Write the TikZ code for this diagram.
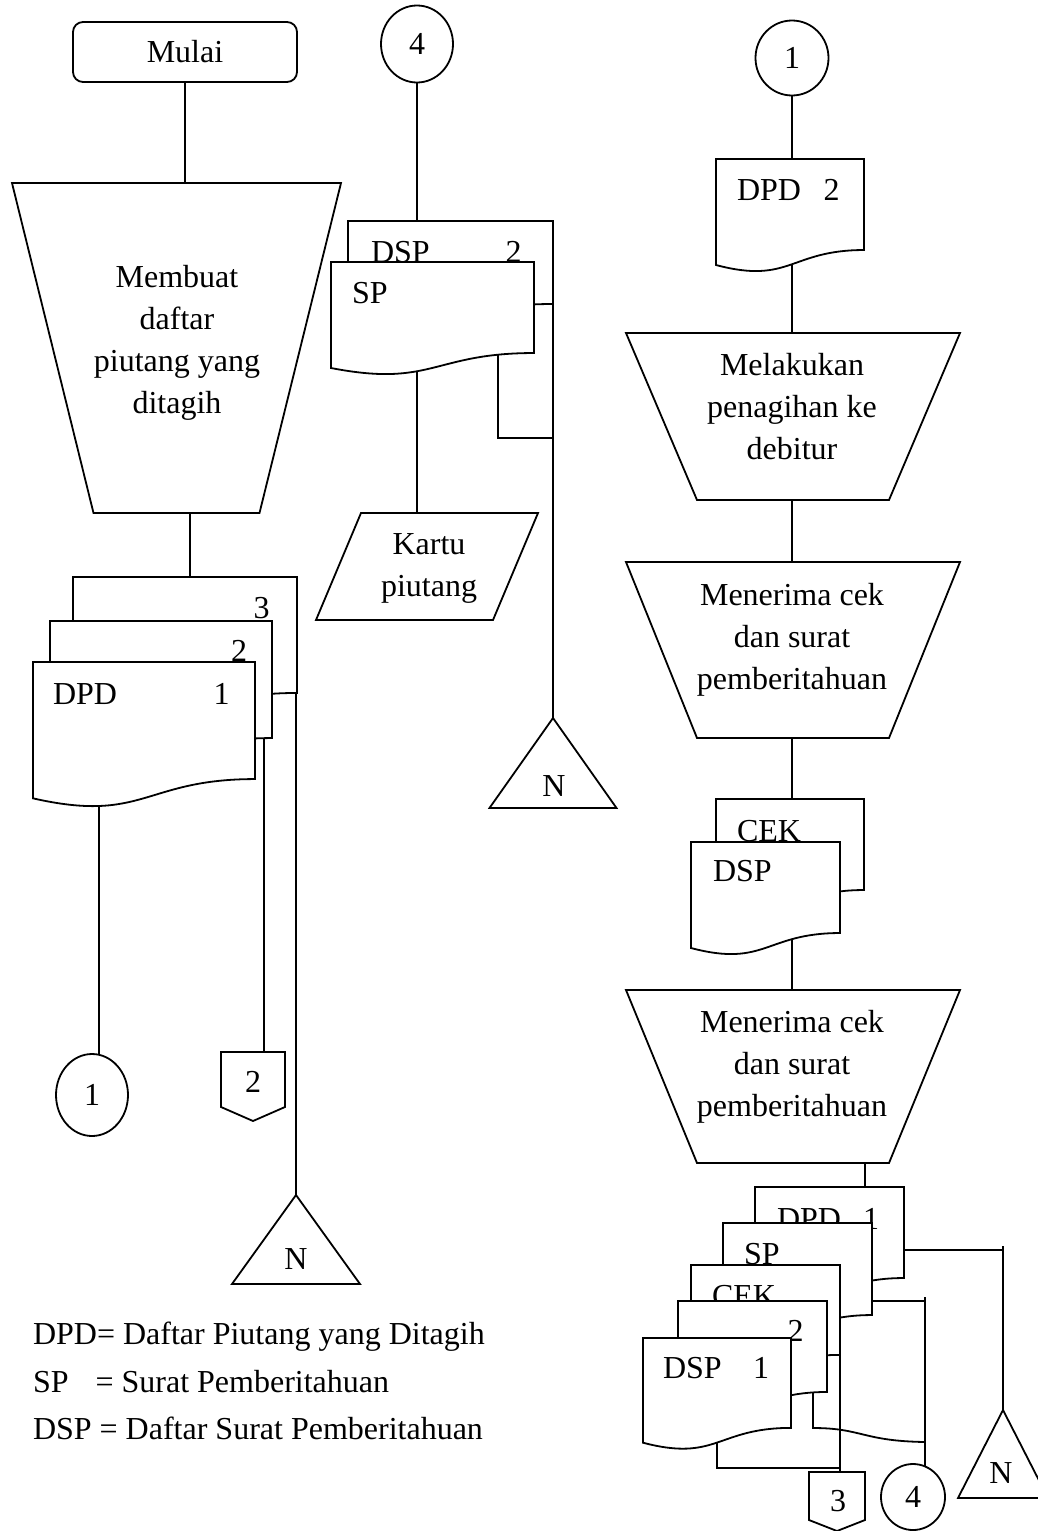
\documentclass[tikz,border=0pt]{standalone}
\usepackage{fontspec}
\setmainfont{Liberation Serif}
\usetikzlibrary{calc,shapes.geometric}
\pgfdeclarelayer{wires}
\pgfsetlayers{wires,main}

\tikzset{
  box/.style={rectangle, inner sep=0pt, outer sep=0pt, draw=none},
  lbl/.style={inner sep=0pt, outer sep=0pt, font=\fontsize{32}{42}\selectfont},
  mtext/.style={lbl, align=center, execute at begin node=\strut, execute at end node=\strut},
  term/.style={rectangle, rounded corners=10pt, draw, fill=white, inner sep=0pt, font=\fontsize{32}{42}\selectfont},
  conn/.style={ellipse, draw, fill=white, inner sep=0pt, font=\fontsize{32}{42}\selectfont},
  shp/.style={draw, fill=white},
  flow/.style={line width=1.8pt, black},
}

% flowchart symbols drawn on an invisible bounding node
\newcommand\docshape[1]{\path[shp] (#1.north west) -- (#1.north east)
  -- ($(#1.north east)!0.802!(#1.south east)$)
  .. controls ($(#1.north)!0.802!(#1.south)$) and ($(#1.north)!1.1075!(#1.south)$)
  .. ($(#1.north west)!0.934!(#1.south west)$) -- cycle;}
\newcommand\manop[2]{\path[shp] (#1.north west) -- (#1.north east)
  -- ([xshift=-#2]#1.south east) -- ([xshift=#2]#1.south west) -- cycle;}
\newcommand\ioshape[2]{\path[shp] ([xshift=#2]#1.north west) -- (#1.north east)
  -- ([xshift=-#2]#1.south east) -- (#1.south west) -- cycle;}
\newcommand\offpage[2]{\path[shp] (#1.north west) -- (#1.north east) -- (#1.south east)
  -- ([yshift=-#2]#1.south) -- (#1.south west) -- cycle;}
\newcommand\mergetri[1]{\path[shp] (#1.north) -- (#1.south east) -- (#1.south west) -- cycle;}

\begin{document}
\begin{tikzpicture}[x=1pt, y=-1pt, line width=1.8pt]
\useasboundingbox (0,0) rectangle (1038,1531);

% ---------- left column ----------
\node[term, minimum width=224pt, minimum height=60pt] (mulai) at (185,52) {Mulai};

\node[box, minimum width=329pt, minimum height=330pt] (buat) at (176.5,348) {};
\manop{buat}{81.5pt}
\node[mtext] (buat-t) at (177,346) {Membuat\\daftar\\piutang yang\\ditagih};

\node[box, minimum width=224pt, minimum height=144.6pt] (dpdc) at (185,649.3) {};
\docshape{dpdc}
\node[lbl, anchor=base] (dpdc-n) at (261.5,618) {3};
\node[box, minimum width=222pt, minimum height=145.9pt] (dpdb) at (161,694) {};
\docshape{dpdb}
\node[lbl, anchor=base] (dpdb-n) at (239,661) {2};
\node[box, minimum width=222pt, minimum height=145.9pt] (dpda) at (144,735) {};
\docshape{dpda}
\node[lbl, anchor=base west] (dpda-t) at (53,704) {DPD};
\node[lbl, anchor=base] (dpda-n) at (221.5,704) {1};

\node[conn, minimum width=72pt, minimum height=82pt] (outa) at (92,1095) {1};
\node[box, minimum width=64pt, minimum height=55pt] (offb) at (253,1079.5) {};
\offpage{offb}{14pt}
\node[lbl, anchor=base] (offb-t) at (253,1092) {2};
\node[box, minimum width=128pt, minimum height=89pt] (nleft) at (296,1239.5) {};
\mergetri{nleft}
\node[lbl, anchor=base] (nleft-t) at (296,1269) {N};

% legend
\node[lbl, anchor=base west] (leg1) at (33,1344) {DPD= Daftar Piutang yang Ditagih};
\node[lbl, anchor=base west] (leg2) at (33,1392) {SP\hspace{27pt}= Surat Pemberitahuan};
\node[lbl, anchor=base west] (leg3) at (33,1439) {DSP = Daftar Surat Pemberitahuan};

% ---------- middle column ----------
\node[conn, minimum width=72pt, minimum height=77pt] (ina) at (417,44) {4};
\node[box, minimum width=205pt, minimum height=103.5pt] (dspb) at (450.5,272.75) {};
\docshape{dspb}
\node[lbl, anchor=base west] (dspb-t) at (371,262) {DSP};
\node[lbl, anchor=base] (dspb-n) at (513.5,262) {2};
\node[box, minimum width=203pt, minimum height=113.5pt] (spa) at (432.5,318.75) {};
\docshape{spa}
\node[lbl, anchor=base west] (spa-t) at (352,303) {SP};

\node[box, minimum width=222pt, minimum height=107pt] (kartu) at (427,566.5) {};
\ioshape{kartu}{45pt}
\node[mtext] (kartu-t) at (429,571) {Kartu\\piutang};

\node[box, minimum width=127pt, minimum height=90pt] (nmid) at (553,763) {};
\mergetri{nmid}
\node[lbl, anchor=base] (nmid-t) at (554,796) {N};

% ---------- right column ----------
\node[conn, minimum width=73pt, minimum height=75pt] (inb) at (792,58) {1};
\node[box, minimum width=148pt, minimum height=113.5pt] (dpdr) at (790,215.75) {};
\docshape{dpdr}
\node[lbl, anchor=base west] (dpdr-t) at (737,200) {DPD};
\node[lbl, anchor=base] (dpdr-n) at (831.5,200) {2};

\node[box, minimum width=334pt, minimum height=167pt] (tagih) at (793,416.5) {};
\manop{tagih}{71pt}
\node[mtext] (tagih-t) at (792,413) {Melakukan\\penagihan ke\\debitur};

\node[box, minimum width=334pt, minimum height=176pt] (terima1) at (793,650) {};
\manop{terima1}{71pt}
\node[mtext] (terima1-t) at (792,643) {Menerima cek\\dan surat\\pemberitahuan};

\node[box, minimum width=148pt, minimum height=113.5pt] (cek) at (790,855.75) {};
\docshape{cek}
\node[lbl, anchor=base west] (cek-t) at (737,841) {CEK};
\node[box, minimum width=149pt, minimum height=113.5pt] (dspr) at (765.5,898.75) {};
\docshape{dspr}
\node[lbl, anchor=base west] (dspr-t) at (713,881) {DSP};

\node[box, minimum width=334pt, minimum height=173pt] (terima2) at (793,1076.5) {};
\manop{terima2}{71pt}
\node[mtext] (terima2-t) at (792,1070) {Menerima cek\\dan surat\\pemberitahuan};

% archive stack
\node[box, minimum width=149pt, minimum height=113.5pt] (arsa) at (829.5,1243.75) {};
\docshape{arsa}
\node[lbl, anchor=base west] (arsa-t) at (777,1229) {DPD};
\node[lbl, anchor=base] (arsa-n) at (871,1229) {1};
\node[box, minimum width=149pt, minimum height=114.7pt] (arsb) at (797.5,1280.4) {};
\docshape{arsb}
\node[lbl, anchor=base west] (arsb-t) at (744,1264.5) {SP};
\node[box, minimum width=149pt, minimum height=112.2pt] (arsc) at (765.5,1321) {};
\docshape{arsc}
\node[lbl, anchor=base west] (arsc-t) at (712,1306) {CEK};
\node[box, minimum width=149pt, minimum height=113.5pt] (arsd) at (752.5,1357.7) {};
\docshape{arsd}
\node[lbl, anchor=base] (arsd-n) at (795.5,1341) {2};
\node[box, minimum width=148pt, minimum height=112.2pt] (arse) at (717,1394) {};
\docshape{arse}
\node[lbl, anchor=base west] (arse-t) at (663,1378) {DSP};
\node[lbl, anchor=base] (arse-n) at (761,1378) {1};

\node[box, minimum width=56pt, minimum height=48pt] (offc) at (837,1496) {};
\offpage{offc}{11pt}
\node[lbl, anchor=base] (offc-t) at (838,1511) {3};
\node[conn, minimum width=64pt, minimum height=66pt] (outb) at (913,1497) {4};
\node[box, minimum width=90pt, minimum height=88pt] (nright) at (1003,1454) {};
\mergetri{nright}
\node[lbl, anchor=base] (nright-t) at (1001,1483) {N};

% junctions of the flow lines
\coordinate (jmid) at (553,438);
\coordinate (jn) at (1003,1250);
\coordinate (jc) at (925,1301);
\coordinate (jw) at (813,1428);
\coordinate (jwe) at (925,1442);
\coordinate (jb) at (840,1468);

% ---------- flow lines ----------
\begin{pgfonlayer}{wires}
\begin{scope}[flow]
\draw (mulai.south) -- (mulai.south |- buat.north);
\draw ([xshift=13.5pt]buat.south) -- ([xshift=5pt]dpdc.north);
\draw ([xshift=-45pt]dpda.center) -- ([xshift=7pt]outa.center);
\draw ([xshift=103pt]dpdb.center) -- ([xshift=11pt]offb.center);
\draw ([xshift=111pt]dpdc.center) -- (nleft.north);

\draw (ina) -- (ina |- dspb.center);
\draw (dspb.east) -- (nmid.north);
\draw ([xshift=65.5pt]spa.center) |- (jmid);
\draw (ina |- spa.center) -- (ina |- kartu.center);

\draw (inb) -- (inb |- dpdr.center);
\draw (inb |- dpdr.center) -- (inb |- tagih.center);
\draw (inb |- tagih.center) -- (inb |- terima1.center);
\draw (inb |- terima1.center) -- (inb |- cek.center);
\draw (inb |- dspr.center) -- (inb |- terima2.center);
\draw ([xshift=72pt]terima2.center) -- ([xshift=35.5pt]arsa.center);

\draw (arsa.east |- jn) -- (jn);
\draw ([yshift=4pt]jn) -- (nright.north);
\draw (arsb.east |- jc) -- (jc);
\draw ([yshift=4pt]jc) -- ([xshift=12pt]outb.center);
\draw ([xshift=60.5pt]arsd.center) -- (jw) .. controls (862,1428) and (862,1441) .. (jwe);
\draw (arse.center) |- (jb);
\draw (arsc.east) -- (arsc.east |- offc.north);
\end{scope}
\end{pgfonlayer}
\end{tikzpicture}
\end{document}
